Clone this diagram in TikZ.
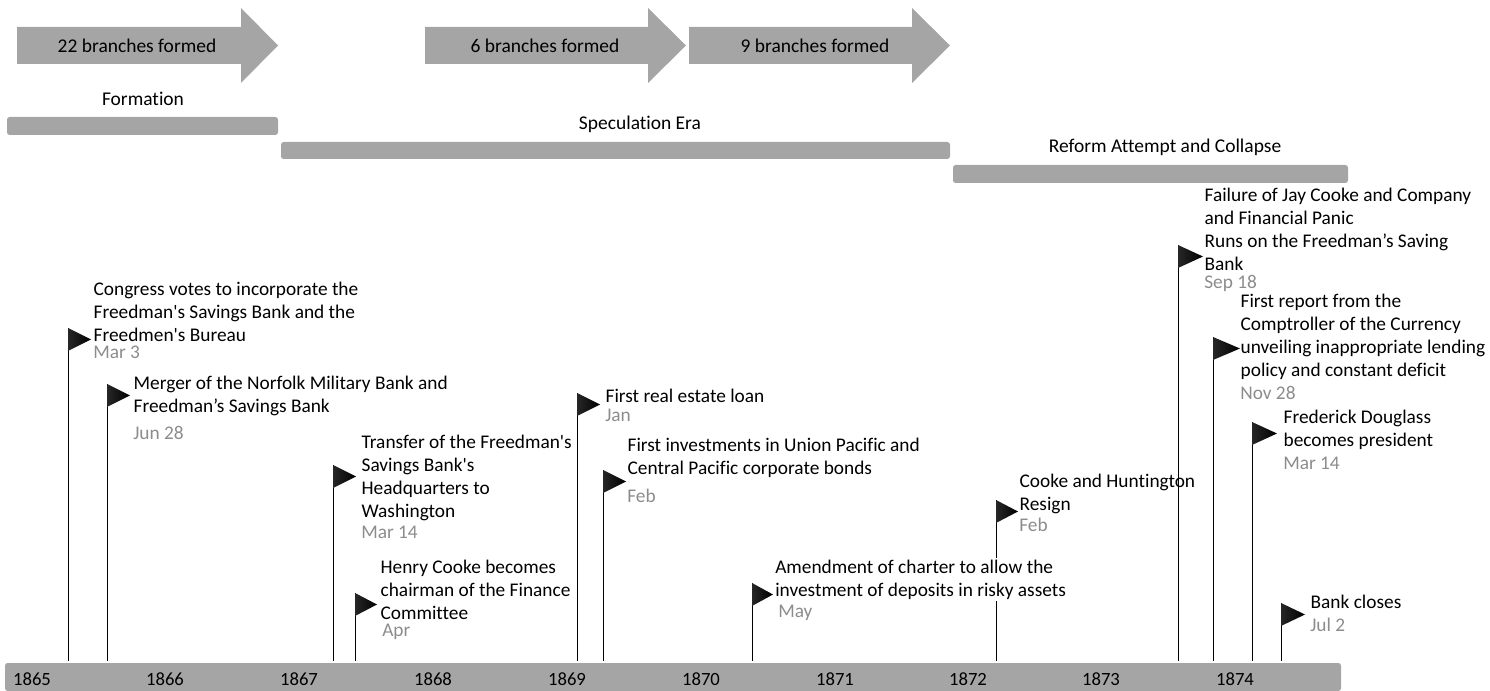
\documentclass[tikz,border=0pt]{standalone}
\usepackage{fontspec}
\setmainfont{Carlito}[Ligatures={TeXOff,CommonOff}]
\definecolor{bargray}{RGB}{165,165,165}
\definecolor{dategray}{RGB}{140,140,140}
\newcommand\evflag[4]{%
  \coordinate (#1t) at (#2,#3);
  \coordinate (#1b) at (#2,661);
  \draw[pole] (#1t) -- (#1b);
  \shade[flagshade] (#1t) -- ++(#4,11.5) -- ++(-#4,11.5) -- cycle;
}
\begin{document}
\begin{tikzpicture}[x=0.75pt,y=-0.75pt,
  evt/.style={anchor=west,align=left,inner sep=0.3pt,font=\fontsize{14.5}{17.25}\selectfont,text=black},
  datel/.style={anchor=west,inner sep=0pt,font=\fontsize{14.5}{17}\selectfont,text=dategray},
  pole/.style={line width=0.75pt,black},
  flagshade/.style={left color=black!85,right color=black},
  barfill/.style={fill=bargray,rounded corners=2pt},
  lbl/.style={font=\fontsize{14.6}{17}\selectfont,text=black,inner sep=0pt},
  yearl/.style={font=\fontsize{14}{17}\selectfont,text=black,inner sep=0pt},
  ]
\useasboundingbox (0,0) rectangle (1490,691);

% top arrows
\fill[bargray] (17,27) -- (241,27) -- (241,8) -- (278,45.5) -- (241,83) -- (241,64) -- (17,64) -- cycle;
\node[lbl] (a1) at (137,45.5) {22 branches formed};
\fill[bargray] (425,27) -- (648,27) -- (648,8) -- (686,45.5) -- (648,83) -- (648,64) -- (425,64) -- cycle;
\node[lbl] (a2) at (545,45.5) {6 branches formed};
\fill[bargray] (689,27) -- (912,27) -- (912,8) -- (950,45.5) -- (912,83) -- (912,64) -- (689,64) -- cycle;
\node[lbl] (a3) at (815,45.5) {9 branches formed};

% phases
\fill[barfill] (7,117) rectangle (278,135);
\node[lbl] (ph1) at (143,99) {Formation};
\fill[barfill] (281,142) rectangle (950,159);
\node[lbl] (ph2) at (640,124) {Speculation Era};
\fill[barfill] (953,165) rectangle (1348,183);
\node[lbl] (ph3) at (1165,147) {Reform Attempt and Collapse};

% axis
\fill[barfill] (5,663) rectangle (1341,691);
\node[yearl] (y1865) at (32,679) {1865};
\node[yearl] (y1866) at (165,679) {1866};
\node[yearl] (y1867) at (299,679) {1867};
\node[yearl] (y1868) at (433,679) {1868};
\node[yearl] (y1869) at (567,679) {1869};
\node[yearl] (y1870) at (701,679) {1870};
\node[yearl] (y1871) at (835,679) {1871};
\node[yearl] (y1872) at (968,679) {1872};
\node[yearl] (y1873) at (1101,679) {1873};
\node[yearl] (y1874) at (1235,679) {1874};

% flags and poles
\evflag{f1}{68}{328}{23}
\evflag{f2}{107}{384}{23}
\evflag{f3}{333}{465}{23}
\evflag{f4}{355}{593}{22}
\evflag{f5}{577}{393}{23}
\evflag{f6}{603}{470}{23}
\evflag{f7}{752}{583}{21}
\evflag{f8}{996}{500}{22}
\evflag{f9}{1178}{245}{25}
\evflag{f10}{1213}{337}{27}
\evflag{f11}{1252}{422}{25}
\evflag{f12}{1281}{603}{24}

% event texts
\node[evt] (e1) at (93,311.5) {Congress votes to incorporate the\\Freedman's Savings Bank and the\\Freedmen's Bureau};
\node[datel] (d1) at (93,352) {Mar 3};
\node[evt] (e2) at (133,395.5) {Merger of the Norfolk Military Bank and\\Freedman’s Savings Bank};
\node[datel] (d2) at (133,433) {Jun 28};
\node[evt] (e3) at (361,477.5) {Transfer of the Freedman's\\Savings Bank's\\Headquarters to\\Washington};
\node[datel] (d3) at (361,532) {Mar 14};
\node[evt] (e4) at (380,590) {Henry Cooke becomes\\chairman of the Finance\\Committee};
\node[datel] (d4) at (382,632) {Apr};
\node[evt] (e5) at (605,396) {First real estate loan};
\node[datel] (d5) at (605,415) {Jan};
\node[evt] (e6) at (627,457.5) {First investments in Union Pacific and\\Central Pacific corporate bonds};
\node[datel] (d6) at (627,496) {Feb};
\node[evt,fill=white,inner sep=1.5pt] (e7) at (773,579.5) {Amendment of charter to allow the\\investment of deposits in risky assets};
\node[datel] (d7) at (778,613) {May};
\node[evt] (e8) at (1019,493.5) {Cooke and Huntington\\Resign};
\node[datel] (d8) at (1019,525) {Feb};
\node[evt] (e9) at (1204,229.5) {Failure of Jay Cooke and Company\\and Financial Panic\\Runs on the Freedman’s Saving\\Bank};
\node[datel] (d9) at (1204,283) {Sep 18};
\node[evt] (e10) at (1240,336.5) {First report from the\\Comptroller of the Currency\\unveiling inappropriate lending\\policy and constant deficit};
\node[datel] (d10) at (1240,393) {Nov 28};
\node[evt] (e11) at (1283,429.5) {Frederick Douglass\\becomes president};
\node[datel] (d11) at (1283,463) {Mar 14};
\node[evt] (e12) at (1310,602) {Bank closes};
\node[datel] (d12) at (1310,625) {Jul 2};
\end{tikzpicture}
\end{document}
